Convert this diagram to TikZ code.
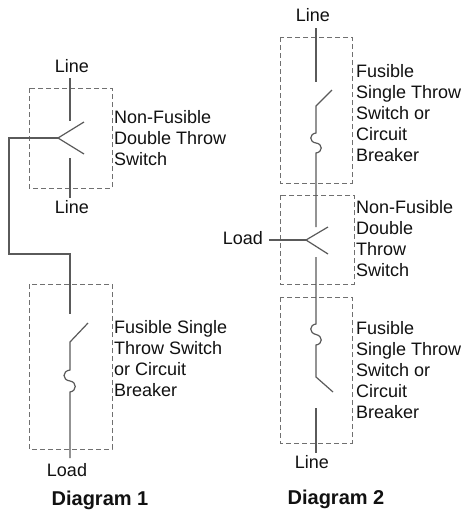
\documentclass[tikz,border=0pt]{standalone}
\usepackage{fontspec}
\setmainfont{Liberation Sans}
\definecolor{wirec}{HTML}{5A5A5A}
\definecolor{boxc}{HTML}{707070}
\definecolor{txtc}{HTML}{111111}
\begin{document}
\begin{tikzpicture}[x=1pt,y=-1pt,
  wire/.style={draw=wirec, line width=1.2pt},
  box/.style={draw=boxc, line width=1pt, dash pattern=on 5pt off 3pt},
  lbl/.style={inner sep=0pt, font=\fontsize{18}{21}\selectfont, text=txtc},
  desc/.style={lbl, anchor=north west, align=left},
  title/.style={inner sep=0pt, font=\bfseries\fontsize{20}{24}\selectfont, text=txtc, anchor=base}]
\useasboundingbox[fill=white] (0,0) rectangle (464,512);

% ---------- labels ----------
\node[lbl, anchor=base] (l1top) at (72,72) {Line};
\node[lbl, anchor=base] (l1bot) at (72,213) {Line};
\node[lbl, anchor=base] (load1) at (67,476) {Load};
\node[title] (d1) at (100,505) {Diagram 1};
\node[lbl, anchor=base] (l2top) at (313,21) {Line};
\node[lbl, anchor=base east] (load2) at (263,244) {Load};
\node[lbl, anchor=base] (l2bot) at (312,468) {Line};
\node[title] (d2) at (336,504) {Diagram 2};

\node[desc] (t1) at (114,110.1) {Non-Fusible\\Double Throw\\Switch};
\node[desc] (t2) at (114,320.1) {Fusible Single\\Throw Switch\\or Circuit\\Breaker};
\node[desc] (t3) at (356,64.1) {Fusible\\Single Throw\\Switch or\\Circuit\\Breaker};
\node[desc] (t4) at (356,200.1) {Non-Fusible\\Double\\Throw\\Switch};
\node[desc] (t5) at (356,321.1) {Fusible\\Single Throw\\Switch or\\Circuit\\Breaker};

% ---------- dashed boxes ----------
\draw[box] (29,88) rectangle (112,188);
\draw[box] (29,284) rectangle (112,449);
\draw[box] (280,37) rectangle (352,183);
\draw[box] (280,195) rectangle (354,284);
\draw[box] (280,297) rectangle (352,443);

% ---------- Diagram 1 ----------
\coordinate (a1) at (70,78);
\coordinate (a2) at (70,121);
\coordinate (s1u) at (84,122);
\coordinate (s1v) at (58,138);
\coordinate (s1d) at (84,154);
\coordinate (a3) at (70,158);
\coordinate (a4) at (70,198);
\draw[wire] (a1) -- (a2);
\draw[wire] (s1u) -- (s1v) -- (s1d);
\draw[wire] (a3) -- (a4);
\coordinate (c1) at (9,138);
\coordinate (c2) at (9,254);
\coordinate (c3) at (70,254);
\coordinate (c4) at (70,314);
\draw[wire] (s1v) -- (c1) -- (c2) -- (c3) -- (c4);
\coordinate (b1) at (88,323);
\coordinate (b2) at (70,342);
\coordinate (f1) at (70,370);
\coordinate (f2) at (70,392);
\coordinate (b3) at (70,458);
\draw[wire] (b1) -- (b2) -- (f1)
  .. controls (62,371) and (62,380) .. (70,381)
  .. controls (77,382) and (77,391) .. (f2) -- (b3);

% ---------- Diagram 2 ----------
\coordinate (e1) at (316,28);
\coordinate (e2) at (316,82);
\draw[wire] (e1) -- (e2);
\coordinate (g1) at (332,90);
\coordinate (g2) at (316,106);
\coordinate (g3) at (316,133);
\coordinate (g4) at (316,153);
\coordinate (g5) at (316,227);
\draw[wire] (g1) -- (g2) -- (g3)
  .. controls (309,134) and (309,142) .. (316,143)
  .. controls (323,144) and (323,152) .. (g4) -- (g5);
\coordinate (s2u) at (328,227);
\coordinate (s2v) at (306,240);
\coordinate (s2d) at (328,254);
\coordinate (ld) at (269,240);
\draw[wire] (s2u) -- (s2v) -- (s2d);
\draw[wire] (ld) -- (s2v);
\coordinate (h1) at (316,257);
\coordinate (h2) at (316,324);
\coordinate (h3) at (316,345);
\coordinate (h4) at (316,377);
\coordinate (h5) at (333,392);
\draw[wire] (h1) -- (h2)
  .. controls (309,325) and (309,333) .. (316,334.5)
  .. controls (323,336) and (323,344) .. (h3) -- (h4) -- (h5);
\coordinate (k1) at (316,408);
\coordinate (k2) at (316,453);
\draw[wire] (k1) -- (k2);
\end{tikzpicture}
\end{document}
